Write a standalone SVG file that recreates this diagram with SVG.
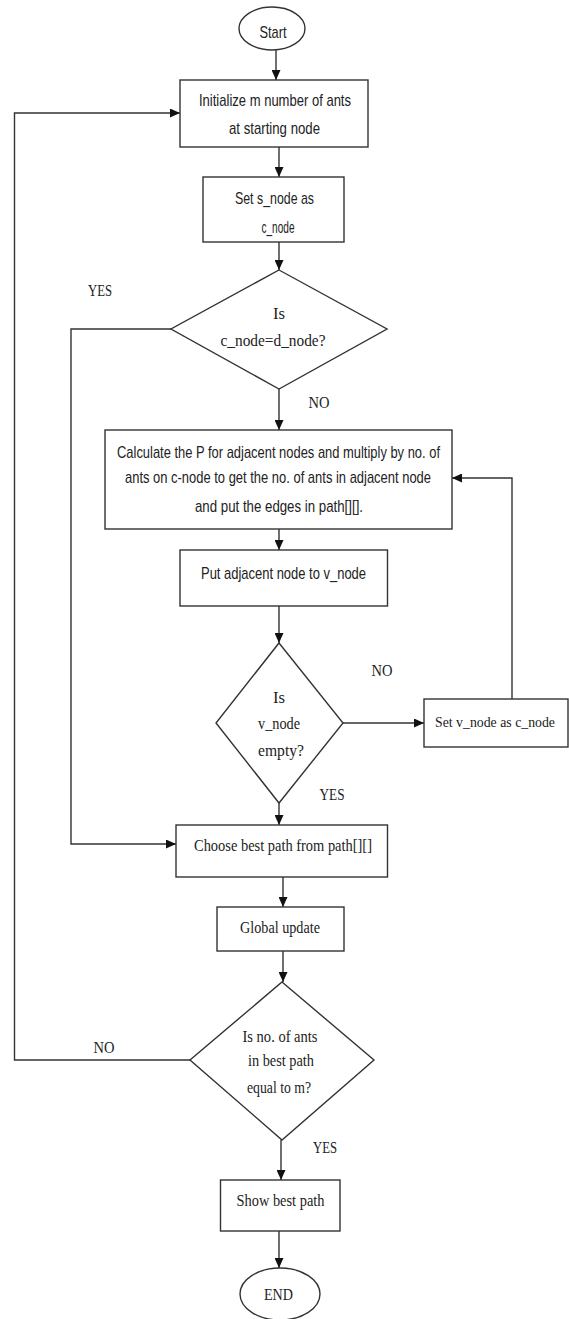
<svg xmlns="http://www.w3.org/2000/svg" width="569" height="1319" viewBox="0 0 569 1319">
<style>
.shape{fill:#fff;stroke:#333;stroke-width:1.4}
.edge{fill:none;stroke:#333;stroke-width:1.4}
.sans{font-family:"Liberation Sans",Arial,sans-serif;font-size:17px;fill:#222;text-anchor:middle;dominant-baseline:central}
.serif{font-family:"Liberation Serif","Times New Roman",serif;font-size:17px;fill:#222;text-anchor:middle;dominant-baseline:central}
</style>
<defs>
<marker id="arr" markerUnits="userSpaceOnUse" markerWidth="10" markerHeight="9" refX="10" refY="4.5" orient="auto">
<path d="M0,0 L10,4.5 L0,9 z" fill="#111"/>
</marker>
</defs>
<rect width="569" height="1319" fill="#fff"/>
<g id="connectors">
<path class="edge" d="M276,50 V80" marker-end="url(#arr)"/>
<path class="edge" d="M279,147 V177" marker-end="url(#arr)"/>
<path class="edge" d="M279,242 V270" marker-end="url(#arr)"/>
<path class="edge" d="M279,389 V430" marker-end="url(#arr)"/>
<path class="edge" d="M171,329 H71 V844 H176" marker-end="url(#arr)"/>
<path class="edge" d="M279,529 V550" marker-end="url(#arr)"/>
<path class="edge" d="M279,606 V643" marker-end="url(#arr)"/>
<path class="edge" d="M343,723 H424" marker-end="url(#arr)"/>
<path class="edge" d="M512,699 V478 H452" marker-end="url(#arr)"/>
<path class="edge" d="M279,803 V825" marker-end="url(#arr)"/>
<path class="edge" d="M283,877 V907" marker-end="url(#arr)"/>
<path class="edge" d="M283,951 V982" marker-end="url(#arr)"/>
<path class="edge" d="M190,1060 H14.5 V113 H180" marker-end="url(#arr)"/>
<path class="edge" d="M281,1140 V1180" marker-end="url(#arr)"/>
<path class="edge" d="M279,1231 V1268" marker-end="url(#arr)"/>
<text class="serif" x="100" y="290" textLength="24" lengthAdjust="spacingAndGlyphs">YES</text>
<text class="serif" x="319" y="402" textLength="21" lengthAdjust="spacingAndGlyphs">NO</text>
<text class="serif" x="382" y="670" textLength="21" lengthAdjust="spacingAndGlyphs">NO</text>
<text class="serif" x="332" y="794" textLength="25" lengthAdjust="spacingAndGlyphs">YES</text>
<text class="serif" x="104" y="1047" textLength="21" lengthAdjust="spacingAndGlyphs">NO</text>
<text class="serif" x="325" y="1147" textLength="24" lengthAdjust="spacingAndGlyphs">YES</text>
</g>
<g id="start">
<ellipse class="shape" cx="272" cy="28.5" rx="33" ry="21.5"/>
<text class="sans" x="273" y="32" textLength="27" lengthAdjust="spacingAndGlyphs">Start</text>
</g>
<g id="init">
<rect class="shape" x="180" y="80" width="188" height="67"/>
<text class="sans" x="275" y="100" textLength="152" lengthAdjust="spacingAndGlyphs">Initialize m number of ants</text>
<text class="sans" x="274.5" y="128" textLength="91" lengthAdjust="spacingAndGlyphs">at starting node</text>
</g>
<g id="set-s-node">
<rect class="shape" x="203" y="177" width="141" height="65"/>
<text class="sans" x="274.5" y="198" textLength="79" lengthAdjust="spacingAndGlyphs">Set s_node as</text>
<text class="sans" x="278" y="227" textLength="33" lengthAdjust="spacingAndGlyphs">c_node</text>
</g>
<g id="decision-dnode">
<polygon class="shape" points="279,270 387,329 279,389 171,329"/>
<text class="serif" x="279" y="313" textLength="12" lengthAdjust="spacingAndGlyphs">Is</text>
<text class="serif" x="273" y="340" textLength="105" lengthAdjust="spacingAndGlyphs">c_node=d_node?</text>
</g>
<g id="calculate">
<rect class="shape" x="105" y="430" width="347" height="99"/>
<text class="sans" x="278.5" y="452" textLength="323" lengthAdjust="spacingAndGlyphs">Calculate the P for adjacent nodes and multiply by no. of</text>
<text class="sans" x="278" y="477" textLength="306" lengthAdjust="spacingAndGlyphs">ants on c-node to get the no. of ants in adjacent node</text>
<text class="sans" x="279" y="506" textLength="168" lengthAdjust="spacingAndGlyphs">and put the edges in path[][].</text>
</g>
<g id="put-adjacent">
<rect class="shape" x="180" y="550" width="207.5" height="56"/>
<text class="sans" x="283.5" y="573" textLength="165" lengthAdjust="spacingAndGlyphs">Put adjacent node to v_node</text>
</g>
<g id="decision-empty">
<polygon class="shape" points="279,643 343,723 279,803 216,723"/>
<text class="serif" x="279" y="697" textLength="12" lengthAdjust="spacingAndGlyphs">Is</text>
<text class="serif" x="279" y="723" textLength="42" lengthAdjust="spacingAndGlyphs">v_node</text>
<text class="serif" x="281" y="750" textLength="46" lengthAdjust="spacingAndGlyphs">empty?</text>
</g>
<g id="set-v-node">
<rect class="shape" x="424" y="699" width="144" height="48"/>
<text class="serif" x="495" y="722" style="font-size:15px" textLength="120" lengthAdjust="spacingAndGlyphs">Set v_node as c_node</text>
</g>
<g id="choose">
<rect class="shape" x="176" y="825" width="211.5" height="52"/>
<text class="serif" x="283" y="845" textLength="178" lengthAdjust="spacingAndGlyphs">Choose best path from path[][]</text>
</g>
<g id="global-update">
<rect class="shape" x="217" y="907" width="127" height="44"/>
<text class="serif" x="280" y="927" textLength="80" lengthAdjust="spacingAndGlyphs">Global update</text>
</g>
<g id="decision-m">
<polygon class="shape" points="282,982 374,1060 282,1140 190,1060"/>
<text class="serif" x="280" y="1036" textLength="75" lengthAdjust="spacingAndGlyphs">Is no. of ants</text>
<text class="serif" x="281" y="1060" textLength="66" lengthAdjust="spacingAndGlyphs">in best path</text>
<text class="serif" x="279" y="1087" textLength="64" lengthAdjust="spacingAndGlyphs">equal to m?</text>
</g>
<g id="show-best">
<rect class="shape" x="220.5" y="1180" width="119.5" height="51"/>
<text class="serif" x="280.5" y="1200" textLength="88" lengthAdjust="spacingAndGlyphs">Show best path</text>
</g>
<g id="end">
<ellipse class="shape" cx="280" cy="1294" rx="40" ry="26"/>
<text class="serif" x="278.5" y="1294" textLength="29" lengthAdjust="spacingAndGlyphs">END</text>
</g>
</svg>
